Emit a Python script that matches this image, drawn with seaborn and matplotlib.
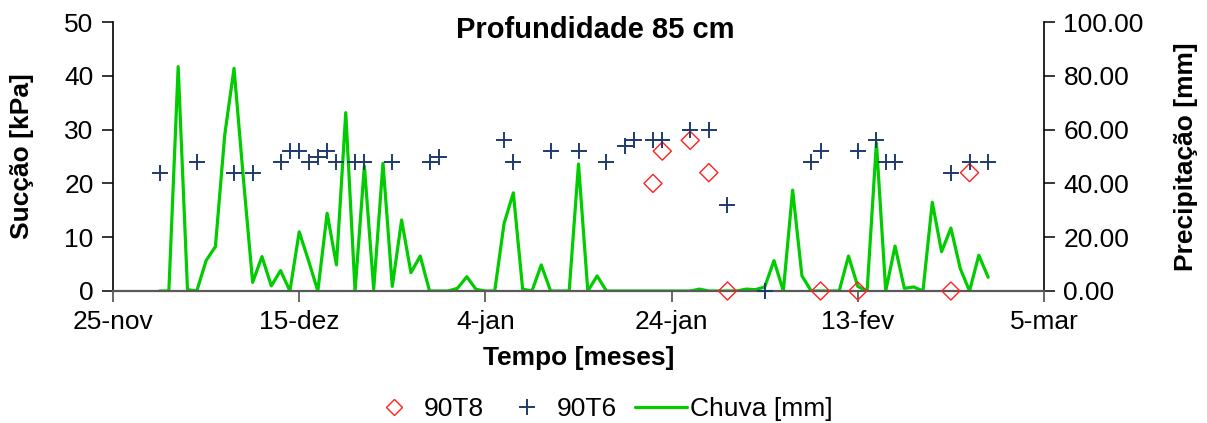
import numpy as np
import pandas as pd
import matplotlib
matplotlib.use("Agg")
import matplotlib.pyplot as plt
import seaborn as sns
from matplotlib.lines import Line2D

# ---------------- data ----------------
start_date = "2004-11-25"
tick_labels = ["25-nov", "15-dez", "4-jan", "24-jan", "13-fev", "5-mar"]

# daily rainfall [mm], consecutive days from 2004-11-30
rain_first_day = "2004-11-30"
rain_mm = [0, 0, 83.4, 0.5, 0, 11.3, 16.5, 58, 82.8, 42,
           3.2, 12.8, 1.9, 7.6, 0, 22, 11.3, 0, 28.9, 9.7,
           66.3, 0, 46.5, 0.7, 47.5, 1.7, 26.4, 6.8, 13, 0,
           0, 0, 1.0, 5.3, 0.6, 0, 0, 25, 36.5, 0.7,
           0, 9.7, 0, 0, 0, 47.2, 0, 5.6, 0, 0,
           0, 0, 0, 0, 0, 0, 0, 0, 0.7, 0,
           0, 0, 0, 0.7, 0.5, 1.5, 11.3, 0, 37.5, 5.6,
           0, 0, 0, 0, 13, 1.7, 0, 55.1, 0, 16.7,
           1, 1.5, 0, 33, 14.6, 23.4, 8.4, 0, 13.3, 5.1]

# suction readings: day offset from start_date and value [kPa]
t6_day = [5, 9, 13, 15, 18, 19, 20, 21, 22, 23, 24, 26, 27, 30, 34, 35, 42, 43,
          47, 50, 53, 55, 56, 58, 59, 62, 64, 66, 70, 75, 76, 80, 82, 83, 84,
          90, 92, 94]
t6_kpa = [22, 24, 22, 22, 24, 26, 26, 24, 25, 26, 24, 24, 24, 24, 24, 25, 28, 24,
          26, 26, 24, 27, 28, 28, 28, 30, 30, 16, 0, 24, 26, 26, 28, 24, 24,
          22, 24, 24]

t8_day = [58, 59, 62, 64, 66, 76, 80, 90, 92]
t8_kpa = [20, 26, 28, 22, 0, 0, 0, 0, 22]

series_names = ["90T8", "90T6", "Chuva [mm]"]

# ---------------- frames ----------------
t0 = pd.Timestamp(start_date)
rain_df = pd.DataFrame({
    "data": pd.date_range(rain_first_day, periods=len(rain_mm), freq="D"),
    "chuva": rain_mm})
t6_df = pd.DataFrame({"data": t0 + pd.to_timedelta(t6_day, unit="D"), "succao": t6_kpa})
t8_df = pd.DataFrame({"data": t0 + pd.to_timedelta(t8_day, unit="D"), "succao": t8_kpa})
tick_dates = pd.date_range(start_date, periods=len(tick_labels), freq="20D")

# ---------------- style ----------------
sns.set_theme(style="white")
plt.rcParams["font.family"] = ["Liberation Sans", "DejaVu Sans"]
plt.rcParams["text.color"] = "black"
plt.rcParams["axes.labelcolor"] = "black"
plt.rcParams["xtick.color"] = "black"
plt.rcParams["ytick.color"] = "black"
FS = 19

GREEN = "#00CC00"
NAVY = "#1F3A6E"
RED = "#FF2020"

W, H = 1207, 423
fig = plt.figure(figsize=(W / 100, H / 100), dpi=100)
ax = fig.add_axes([113 / W, 1 - 291 / H, (1044 - 113) / W, (291 - 22) / H])
ax2 = ax.twinx()

sns.lineplot(data=rain_df, x="data", y="chuva", ax=ax2, color=GREEN,
             linewidth=2.3, legend=False)

ax.set_zorder(ax2.get_zorder() + 1)
ax.patch.set_visible(False)

sns.scatterplot(data=t8_df, x="data", y="succao", ax=ax, marker="D", s=85,
                facecolors="none", edgecolor=RED, linewidth=1.0, clip_on=False,
                zorder=5)
sns.scatterplot(data=t6_df, x="data", y="succao", ax=ax, marker="+", s=140,
                color=NAVY, linewidth=1.4, clip_on=False, zorder=6)

ax.set_ylim(0, 50)
ax.set_yticks(np.arange(0, 51, 10))
ax2.set_ylim(0, 100)
ax2.set_yticks(np.arange(0, 101, 20))
ax2.set_yticklabels([f"{v:.2f}" for v in np.arange(0, 101, 20)])

ax.set_xlim(tick_dates[0], tick_dates[-1])
ax.set_xticks(tick_dates)
ax.set_xticklabels(tick_labels)

for a in (ax, ax2):
    a.spines["top"].set_visible(False)
    a.grid(False)
ax.spines["left"].set_color("black")
ax.spines["left"].set_linewidth(1.2)
ax.spines["right"].set_visible(False)
ax2.spines["left"].set_visible(False)
ax2.spines["bottom"].set_visible(False)
ax2.spines["right"].set_color("black")
ax2.spines["right"].set_linewidth(1.2)
ax.spines["bottom"].set_color("#595959")
ax.spines["bottom"].set_linewidth(1.6)

ax.tick_params(axis="y", left=True, length=8, width=1.1, color="black",
               labelsize=FS, pad=6, labelcolor="black")
ax.tick_params(axis="x", bottom=True, length=8, width=1.1, color="#404040",
               labelsize=FS, pad=6, labelcolor="black")
ax2.tick_params(axis="y", right=True, length=8, width=1.1, color="black",
                labelsize=FS, pad=6, labelcolor="black")

ax.set_xlabel("Tempo [meses]", fontsize=FS, fontweight="bold", labelpad=8)
ax.set_ylabel("Sucção [kPa]", fontsize=FS, fontweight="bold", labelpad=22)
ax2.set_ylabel("Precipitação [mm]", fontsize=FS, fontweight="bold", labelpad=22)

fig.text(595 / W, 1 - 30 / H, "Profundidade 85 cm", fontsize=21,
         fontweight="bold", ha="center", va="center")

# ---------------- legend (one entry each, placed like the reference) ----------------
em = FS * 100 / 72.0  # px per em
h_d = Line2D([], [], linestyle="none", marker="D", markersize=8.5,
             markerfacecolor="none", markeredgecolor=RED, markeredgewidth=1.0)
h_p = Line2D([], [], linestyle="none", marker="+", markersize=11,
             color=NAVY, markeredgewidth=1.4)
h_l = Line2D([], [], color=GREEN, linewidth=2.3)

entries = [
    (h_d, series_names[0], 394 - 0.5 * em, 1.0, 0.62),
    (h_p, series_names[1], 527 - 0.5 * em, 1.0, 0.62),
    (h_l, series_names[2], 635, 52 / em, 0.12),
]
for handle, label, left_px, hl, tp in entries:
    fig.legend([handle], [label], loc="center left",
               bbox_to_anchor=(left_px / W, 1 - 409 / H), frameon=False,
               fontsize=FS, handlelength=hl, handletextpad=tp,
               borderpad=0, borderaxespad=0)

fig.savefig("out.png", dpi=100)
